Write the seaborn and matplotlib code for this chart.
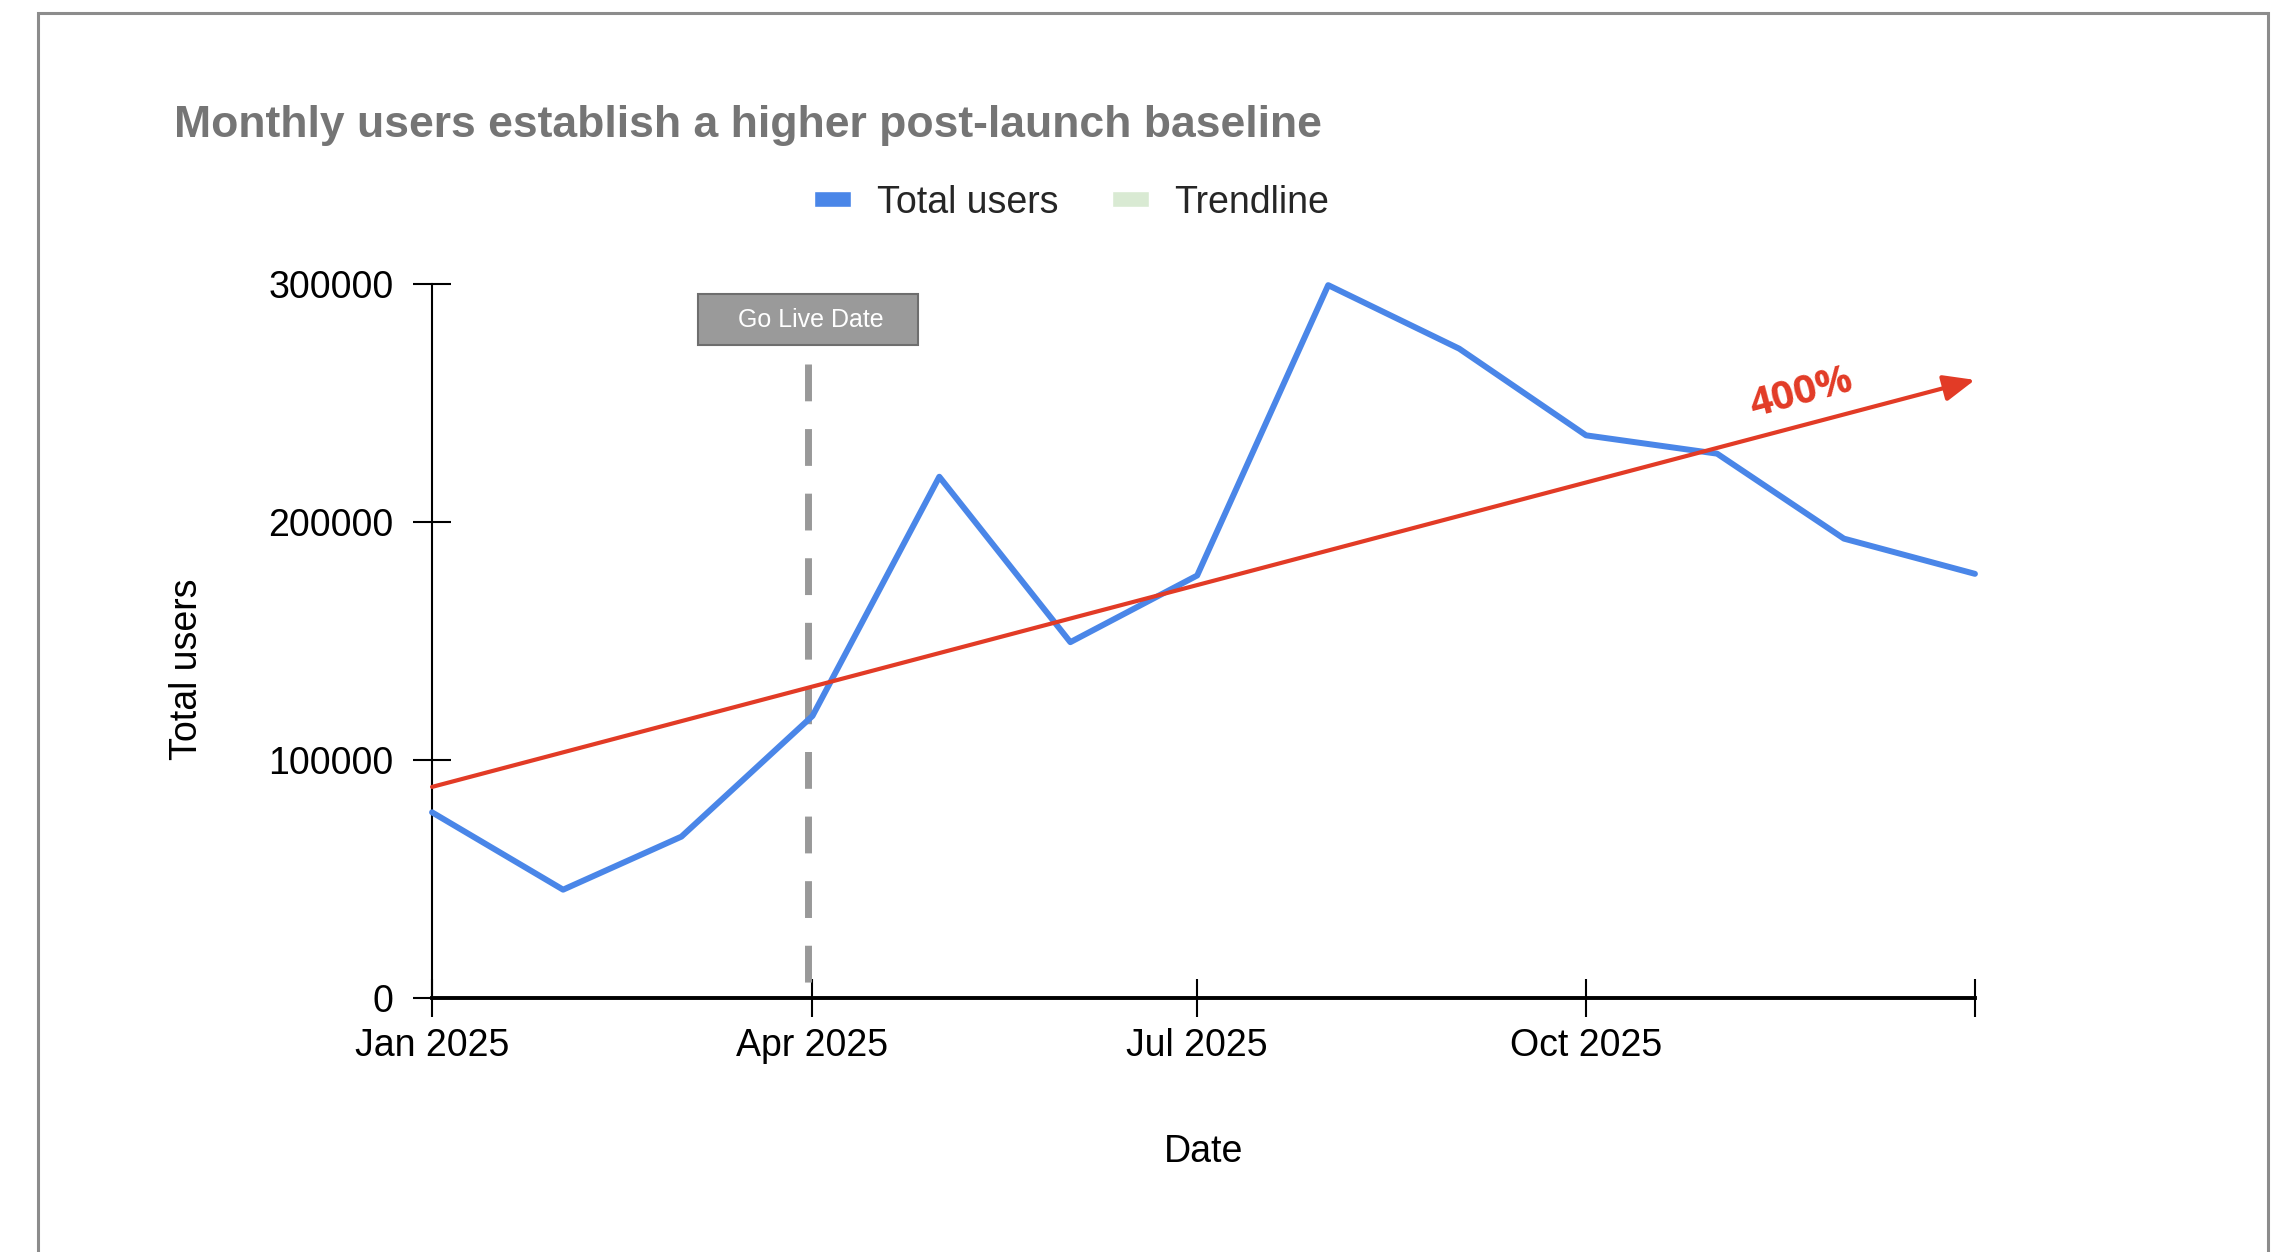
import numpy as np
import pandas as pd
import matplotlib
matplotlib.use("Agg")
import matplotlib.pyplot as plt
import matplotlib.dates as mdates
from matplotlib.patches import Rectangle, Patch
import seaborn as sns

# monthly values
months = pd.date_range("2025-01-01", "2026-01-01", freq="MS")
total_users = [78000, 45500, 67800, 118500, 219000, 149500, 177500,
               299500, 272800, 236400, 228700, 193000, 178200]

go_live = pd.Timestamp("2025-03-31")
xtick_dates = pd.to_datetime(["2025-01-01", "2025-04-01", "2025-07-01",
                              "2025-10-01", "2026-01-01"])
xtick_labels = ["Jan 2025", "Apr 2025", "Jul 2025", "Oct 2025", ""]
ytick_vals = [0, 100000, 200000, 300000]

blue = "#4a86e8"
red = "#e23b26"
trend_green = "#d9ead3"

df = pd.DataFrame({"Date": months, "Total users": total_users})

sns.set_theme(style="white")
plt.rcParams["font.family"] = ["Liberation Sans", "DejaVu Sans"]

fig = plt.figure(figsize=(22.8, 12.52), dpi=100)
ax = fig.add_axes([0.1895, 0.2029, 0.6767, 0.5703])

sns.lineplot(data=df, x="Date", y="Total users", color=blue, linewidth=4.3,
             ax=ax, legend=False, clip_on=False, zorder=3)

# linear trendline from the data, drawn as a red arrow
idx = np.arange(len(total_users))
slope, icpt = np.polyfit(idx, total_users, 1)
t0, t1 = icpt, icpt + slope * idx[-1]
ax.annotate("", xy=(months[-1], t1), xytext=(months[0], t0),
            arrowprops=dict(arrowstyle="-|>,head_length=0.95,head_width=0.4",
                            color=red, lw=3, mutation_scale=20,
                            shrinkA=0, shrinkB=0),
            annotation_clip=False, zorder=4)
ax.text(pd.Timestamp("2025-11-21"), 254000, "400%", color=red,
        fontsize=29, fontweight="bold", family=["Open Sans", "DejaVu Sans"],
        rotation=15, ha="center", va="center", rotation_mode="anchor")

# go live marker (drawn top-down so the dash pattern starts under the box)
ax.plot([go_live, go_live], [266500, 0], color="#999999", linewidth=5,
        linestyle=(0, (5.3, 4)), solid_capstyle="butt", zorder=2)
box_l = mdates.date2num(pd.Timestamp("2025-03-05"))
box_r = mdates.date2num(pd.Timestamp("2025-04-26"))
ax.add_patch(Rectangle((box_l, 274300), box_r - box_l, 21500,
                       facecolor="#9a9a9a", edgecolor="#6e6e6e",
                       linewidth=1.5, zorder=5))
ax.text(mdates.date2num(go_live) + 0.5, 285000, "Go Live Date", color="white",
        fontsize=18, ha="center", va="center", zorder=6)

ax.set_xlim(months[0], months[-1])
ax.set_ylim(0, 300000)
ax.set_xticks(xtick_dates)
ax.set_xticklabels(xtick_labels)
ax.set_yticks(ytick_vals)
ax.set_yticklabels([str(v) for v in ytick_vals])

for s in ["top", "right"]:
    ax.spines[s].set_visible(False)
ax.spines["left"].set_color("black")
ax.spines["left"].set_linewidth(1.5)
ax.spines["bottom"].set_color("black")
ax.spines["bottom"].set_linewidth(2.8)
ax.tick_params(axis="both", direction="inout", length=27, width=1.5,
               colors="black", labelsize=27, bottom=True, left=True)
ax.tick_params(axis="y", pad=14)
ax.tick_params(axis="x", pad=8)
ax.grid(False)

ax.set_xlabel("Date", fontsize=27, color="black", va="center")
ax.set_ylabel("Total users", fontsize=27, color="black", va="center")
ax.xaxis.set_label_coords(0.5, -0.216)
ax.yaxis.set_label_coords(-0.159, 0.461)

fig.text(174 / 2280, 1 - 126 / 1252,
         "Monthly users establish a higher post-launch baseline",
         fontsize=32, fontweight="bold", color="#757575", va="center")

handles = [Patch(facecolor=blue, label="Total users"),
           Patch(facecolor=trend_green, label="Trendline")]
fig.legend(handles=handles, loc="center", bbox_to_anchor=(0.470, 0.838),
           ncol=2, frameon=False, fontsize=27, handlelength=1.0,
           handleheight=0.27, handletextpad=0.67, columnspacing=1.43)

# outer frame
fig.patches.append(Rectangle((38 / 2280, -0.02), (2268 - 38) / 2280,
                             1.02 - 13 / 1252, transform=fig.transFigure,
                             fill=False, edgecolor="#8c8c8c", linewidth=2.2))

fig.savefig("out.png", dpi=100, facecolor="white")
